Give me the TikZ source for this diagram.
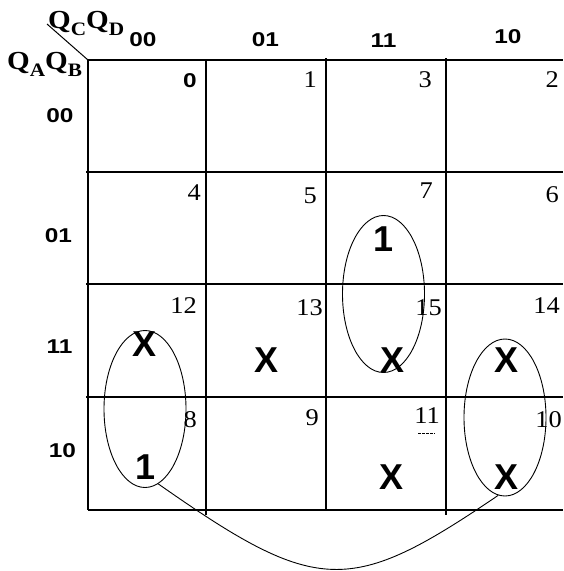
\documentclass[tikz,border=0pt]{standalone}
\usepackage{fontspec}
\setmainfont{Liberation Serif}
\setsansfont{Liberation Sans}
\usetikzlibrary{shapes.geometric}
\tikzset{
  gridline/.style={line width=1.1pt},
  gridthick/.style={line width=2pt},
  gridmid/.style={line width=1.6pt},
  num/.style={font=\fontsize{24}{24}\selectfont, inner sep=0pt, anchor=base east},
  lab/.style={font=\sffamily\bfseries\fontsize{20}{20}\selectfont, inner sep=0pt, anchor=base},
  bigmk/.style={font=\sffamily\bfseries\fontsize{36}{36}\selectfont, inner sep=0pt, anchor=base},
  qlab/.style={font=\bfseries\fontsize{26}{26}\selectfont, inner sep=0pt, anchor=base west},
  grp/.style={draw, ellipse, minimum width=82pt, minimum height=157pt, inner sep=0pt, line width=0.9pt},
  link/.style={line width=0.9pt}
}
\newcommand{\qsub}[1]{\raisebox{-7pt}{\fontsize{19}{19}\selectfont #1}}
\newcommand{\wlab}[1]{\scalebox{1.22}[1]{#1}}
\newcommand{\wnum}[1]{\scalebox{1.1}[1]{#1}}
\newcommand{\wq}[1]{\scalebox{1.12}[1]{#1}}
\begin{document}
\begin{tikzpicture}[x=1pt,y=-1pt]
\useasboundingbox (0,0) rectangle (563,571);
% grid
\draw[gridline] (88,60) -- (563,60);
\draw[gridline] (86,172) -- (563,172);
\draw[gridline] (86,284) -- (326,284);
\draw[gridmid] (326,284) -- (563,284);
\draw[gridline] (86,397) -- (563,397);
\draw[gridline] (88,510) -- (563,510);
\draw[gridline] (88,60) -- (88,510);
\draw[gridline] (206,60) -- (206,515);
\draw[gridthick] (326,58) -- (326,510);
\draw[gridline] (446,58) -- (446,515);
% diagonal
\coordinate (dg1) at (47,24);
\coordinate (dg2) at (88,60);
\draw[line width=1pt] (dg1) -- (dg2);
% variable labels
\node[qlab] (qcd) at (48,28) {\wq{Q\qsub{C}Q\qsub{D}}};
\node[qlab] (qab) at (7,69) {\wq{Q\qsub{A}Q\qsub{B}}};
% column labels
\node[lab] (c00) at (143,46) {\wlab{00}};
\node[lab] (c01) at (265.5,46) {\wlab{01}};
\node[lab] (c11) at (383.5,47) {\wlab{11}};
\node[lab] (c10) at (508,43) {\wlab{10}};
% row labels
\node[lab] (r00) at (60,122) {\wlab{00}};
\node[lab] (r01) at (58.5,242) {\wlab{01}};
\node[lab] (r11) at (59.5,353) {\wlab{11}};
\node[lab] (r10) at (62.5,457) {\wlab{10}};
% cell numbers
\node[inner sep=0pt, anchor=base east, font=\sffamily\bfseries\fontsize{20}{20}\selectfont] (m0) at (197,87) {\wlab{0}};
\node[num] (m1) at (317,87) {\wnum{1}};
\node[num] (m3) at (432,87) {\wnum{3}};
\node[num] (m2) at (559,87) {\wnum{2}};
\node[num] (m4) at (201,200) {\wnum{4}};
\node[num] (m5) at (317,203) {\wnum{5}};
\node[num] (m7) at (433,198) {\wnum{7}};
\node[num] (m6) at (559,202) {\wnum{6}};
\node[num] (m12) at (197,313) {\wnum{12}};
\node[num] (m13) at (323,315) {\wnum{13}};
\node[num] (m15) at (442,315) {\wnum{15}};
\node[num] (m14) at (560,313) {\wnum{14}};
\node[num] (m8) at (197,427) {\wnum{8}};
\node[num] (m9) at (319,425) {\wnum{9}};
\node[num] (m11) at (440,423) {\wnum{11}};
\node[num] (m10) at (562,427) {\wnum{10}};
\coordinate (u1) at (418,433);
\coordinate (u2) at (435,433);
\draw[line width=0.6pt, dash pattern=on 2.5pt off 1.5pt] (u1) -- (u2);
% entries
\node[bigmk] (v7) at (383.5,251) {1};
\node[bigmk] (v12) at (145,356) {X};
\node[bigmk] (v13) at (266.5,372) {X};
\node[bigmk] (v15) at (392.5,372) {X};
\node[bigmk] (v14) at (506.5,372) {X};
\node[bigmk] (v8) at (146,479) {1};
\node[bigmk] (v11) at (391.5,489) {X};
\node[bigmk] (v10) at (506.5,489) {X};
% groups
\node[grp] (g1) at (383.5,294) {};
\node[grp] (g2) at (145,409) {};
\node[grp] (g3) at (505,417.5) {};
\draw[link] (g2.-80.6) .. controls (318,596) and (350,596) .. (g3.-95);
\end{tikzpicture}
\end{document}
